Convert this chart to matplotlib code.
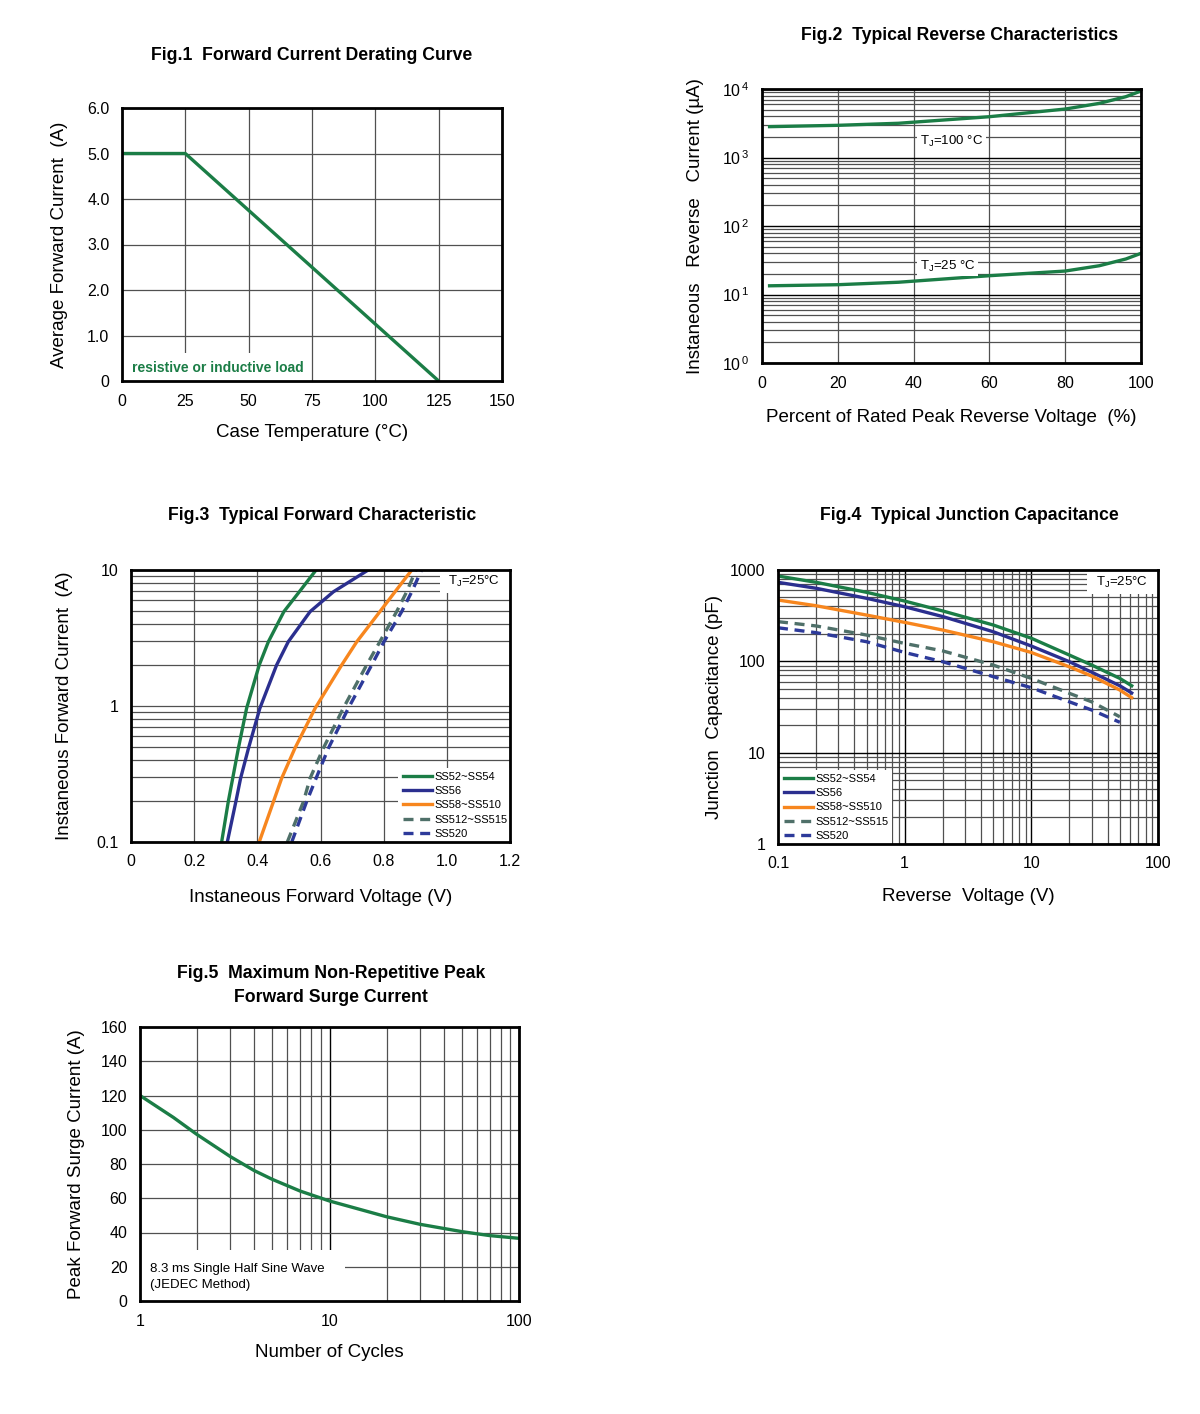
import matplotlib
matplotlib.use("Agg")
import matplotlib.pyplot as plt
import numpy as np
from matplotlib.patches import Rectangle
from matplotlib.ticker import LogLocator, NullFormatter, FixedLocator

plt.rcParams['font.family'] = ['Liberation Sans', 'DejaVu Sans']
plt.rcParams['mathtext.fontset'] = 'custom'
plt.rcParams['mathtext.rm'] = 'Liberation Sans'
plt.rcParams['mathtext.it'] = 'Liberation Sans'

GREEN = "#1b7d46"
NAVY = "#2b2f8f"
ORANGE = "#f7861e"
GRAYG = "#4f7069"
NAVYD = "#2d3a9a"

# Fig.1 derating
f1_temp = [0, 25, 125]
f1_curr = [5.0, 5.0, 0.0]

# Fig.2 reverse characteristics
f2_pct = [2, 20, 36, 60, 80, 89, 96, 100]
f2_ir_100 = [2820, 2950, 3160, 3940, 5100, 6170, 7720, 9350]
f2_ir_25 = [13.4, 13.9, 15.1, 18.8, 22.0, 26.3, 33.0, 39.9]

# Fig.3 forward characteristic (current points shared by all series)
f3_if = [0.1, 0.198, 0.294, 0.489, 0.962, 2.0, 2.97, 4.94, 6.92, 10.0]
f3_vf = {
    "SS52~SS54": [0.287, 0.308, 0.322, 0.340, 0.366, 0.406, 0.435, 0.484, 0.533, 0.586],
    "SS56": [0.305, 0.332, 0.347, 0.372, 0.408, 0.461, 0.498, 0.567, 0.641, 0.751],
    "SS58~SS510": [0.406, 0.451, 0.477, 0.519, 0.583, 0.667, 0.715, 0.788, 0.836, 0.889],
    "SS512~SS515": [0.495, 0.546, 0.567, 0.609, 0.672, 0.746, 0.788, 0.841, 0.873, 0.902],
    "SS520": [0.509, 0.556, 0.586, 0.625, 0.688, 0.762, 0.801, 0.857, 0.889, 0.920],
}

# Fig.4 junction capacitance
f4_vr = [0.1, 0.2, 0.5, 1, 2, 5, 10, 20, 30, 50, 62]
f4_cj = {
    "SS52~SS54": [859, 733, 570, 457, 356, 250, 179, 117, 91, 65, 54],
    "SS56": [733, 631, 490, 396, 309, 211, 147, 99, 76, 54, 45],
    "SS58~SS510": [469, 406, 321, 267, 220, 164, 125, 87, 69, 48.5, 40],
    "SS512~SS515": [272, 244, 194, 157, 130, 91, 65, 44.6, 36, 24.7],
    "SS520": [233, 206, 164, 125, 99, 68, 51.4, 36, 29.3, 21.5],
}

# Fig.5 surge current
f5_cycles = [1, 1.5, 2, 3, 4, 5, 7, 10, 20, 30, 50, 70, 100]
f5_ifsm = [120, 107.2, 97.2, 84.3, 76.2, 71, 64.2, 58.4, 49.2, 44.8, 40.5, 38.2, 36.6]

SERIES_STYLE = {
    "SS52~SS54": (GREEN, "-"),
    "SS56": (NAVY, "-"),
    "SS58~SS510": (ORANGE, "-"),
    "SS512~SS515": (GRAYG, (0, (3, 2))),
    "SS520": (NAVYD, (0, (3, 2))),
}

W, H = 1200, 1414
fig = plt.figure(figsize=(12, 14.14), dpi=100)


def add_ax(l, t, r, b):
    return fig.add_axes([l / W, 1 - b / H, (r - l) / W, (b - t) / H])


def ftxt(x, y, s, **kw):
    fig.text(x / W, 1 - y / H, s, **kw)


def style(ax):
    for s in ax.spines.values():
        s.set_linewidth(2.0)
        s.set_color("black")
        s.set_zorder(10)
    ax.tick_params(which="both", length=0, labelsize=11.5, pad=9)


def white_box(ax, x0, y0, x1, y1):
    ax.add_patch(Rectangle((x0, y0), x1 - x0, y1 - y0, transform=ax.transAxes,
                           facecolor="white", edgecolor="none", zorder=3))


TFS, LFS = 12.7, 13.5
GRID = dict(color="#505050", linewidth=0.9)
LEG = dict(fontsize=8, frameon=False, handlelength=2.6, labelspacing=0.38,
           handletextpad=0.2)

# ---------- Fig.1
ax = add_ax(122, 108, 502, 381)
ax.plot(f1_temp, f1_curr, color=GREEN, lw=2.4, solid_capstyle="butt")
ax.set_xlim(0, 150); ax.set_ylim(0, 6)
ax.set_xticks(range(0, 151, 25))
ax.set_yticks(np.arange(0, 6.1, 1.0))
ax.set_yticklabels(["0", "1.0", "2.0", "3.0", "4.0", "5.0", "6.0"])
ax.grid(True, **GRID)
style(ax)
white_box(ax, 0, 0, 0.495, 0.103)
ax.text(0.026, 0.048, "resistive or inductive load", transform=ax.transAxes,
        color=GREEN, fontsize=10, fontweight="bold", va="center", zorder=4)
ax.set_xlabel("Case Temperature (°C)", fontsize=LFS, labelpad=11)
ax.set_ylabel("Average Forward Current  (A)", fontsize=LFS, labelpad=14)
ftxt(312, 55, "Fig.1  Forward Current Derating Curve", ha="center", va="center",
     fontsize=TFS, fontweight="bold")

# ---------- Fig.2
ax = add_ax(762, 89, 1141, 363)
ax.plot(f2_pct, f2_ir_100, color=GREEN, lw=2.4)
ax.plot(f2_pct, f2_ir_25, color=GREEN, lw=2.4)
ax.set_yscale("log")
ax.set_xlim(0, 100); ax.set_ylim(1, 1e4)
ax.set_xticks(range(0, 101, 20))
ax.yaxis.set_major_locator(FixedLocator([1, 10, 100, 1000, 10000]))
ax.set_yticklabels(["$10^{\\,0}$", "$10^{\\,1}$", "$10^{\\,2}$", "$10^{\\,3}$", "$10^{\\,4}$"])
ax.yaxis.set_minor_locator(LogLocator(base=10, subs=np.arange(2, 10)))
ax.yaxis.set_minor_formatter(NullFormatter())
ax.grid(True, which="minor", axis="y", **GRID)
ax.grid(True, which="major", axis="y", color="black", linewidth=1.0)
ax.grid(True, which="major", axis="x", **GRID)
style(ax)
ax.text(50, 1740, "T$_\\mathrm{J}$=100 °C", fontsize=9.5, ha="center", va="center",
        bbox=dict(facecolor="white", edgecolor="none", pad=2))
ax.text(49, 26, "T$_\\mathrm{J}$=25 °C", fontsize=9.5, ha="center", va="center",
        bbox=dict(facecolor="white", edgecolor="none", pad=2))
ax.set_xlabel("Percent of Rated Peak Reverse Voltage  (%)", fontsize=LFS, labelpad=13)
ax.set_ylabel("Instaneous   Reverse   Current (µA)", fontsize=LFS, labelpad=13)
ftxt(960, 36, "Fig.2  Typical Reverse Characteristics", ha="center", va="center",
     fontsize=TFS, fontweight="bold")

# ---------- Fig.3
ax = add_ax(131, 570, 510, 842)
for name, vf in f3_vf.items():
    c, ls = SERIES_STYLE[name]
    ax.plot(vf, f3_if, color=c, ls=ls, lw=2.4, label=name)
ax.set_yscale("log")
ax.set_xlim(0, 1.2); ax.set_ylim(0.1, 10)
ax.set_xticks(np.arange(0, 1.21, 0.2))
ax.set_xticklabels(["0", "0.2", "0.4", "0.6", "0.8", "1.0", "1.2"])
ax.yaxis.set_major_locator(FixedLocator([0.1, 1, 10]))
ax.set_yticklabels(["0.1", "1", "10"])
ax.yaxis.set_minor_locator(LogLocator(base=10, subs=np.arange(2, 10)))
ax.yaxis.set_minor_formatter(NullFormatter())
ax.grid(True, which="both", axis="y", **GRID)
ax.grid(True, which="major", axis="x", **GRID)
style(ax)
white_box(ax, 0.705, 0, 1, 0.272)
leg = ax.legend(loc="lower right", bbox_to_anchor=(1.02, -0.025), **LEG)
leg.set_zorder(5)
white_box(ax, 0.815, 0.915, 1, 1)
ax.text(0.905, 0.957, "T$_\\mathrm{J}$=25°C", transform=ax.transAxes, fontsize=9.5,
        ha="center", va="center", zorder=4)
ax.set_xlabel("Instaneous Forward Voltage (V)", fontsize=LFS, labelpad=14)
ax.set_ylabel("Instaneous Forward Current  (A)", fontsize=LFS, labelpad=17)
ftxt(322, 516, "Fig.3  Typical Forward Characteristic", ha="center", va="center",
     fontsize=TFS, fontweight="bold")

# ---------- Fig.4
ax = add_ax(778, 570, 1158, 844)
for name, cj in f4_cj.items():
    c, ls = SERIES_STYLE[name]
    ax.plot(f4_vr[:len(cj)], cj, color=c, ls=ls, lw=2.4, label=name)
ax.set_xscale("log"); ax.set_yscale("log")
ax.set_xlim(0.1, 100); ax.set_ylim(1, 1000)
ax.xaxis.set_major_locator(FixedLocator([0.1, 1, 10, 100]))
ax.set_xticklabels(["0.1", "1", "10", "100"])
ax.yaxis.set_major_locator(FixedLocator([1, 10, 100, 1000]))
ax.set_yticklabels(["1", "10", "100", "1000"])
for a in (ax.xaxis, ax.yaxis):
    a.set_minor_locator(LogLocator(base=10, subs=np.arange(2, 10)))
    a.set_minor_formatter(NullFormatter())
ax.grid(True, which="minor", **GRID)
ax.grid(True, which="major", color="black", linewidth=1.0)
style(ax)
white_box(ax, 0, 0, 0.30, 0.27)
leg = ax.legend(loc="lower left", bbox_to_anchor=(-0.01, -0.025), **LEG)
leg.set_zorder(5)
white_box(ax, 0.813, 0.912, 1, 1)
ax.text(0.905, 0.955, "T$_\\mathrm{J}$=25°C", transform=ax.transAxes, fontsize=9.5,
        ha="center", va="center", zorder=4)
ax.set_xlabel("Reverse  Voltage (V)", fontsize=LFS, labelpad=12)
ax.set_ylabel("Junction  Capacitance (pF)", fontsize=LFS, labelpad=5)
ftxt(969, 516, "Fig.4  Typical Junction Capacitance", ha="center", va="center",
     fontsize=TFS, fontweight="bold")

# ---------- Fig.5
ax = add_ax(140, 1027, 519, 1301)
ax.plot(f5_cycles, f5_ifsm, color=GREEN, lw=2.4)
ax.set_xscale("log")
ax.set_xlim(1, 100); ax.set_ylim(0, 160)
ax.xaxis.set_major_locator(FixedLocator([1, 10, 100]))
ax.set_xticklabels(["1", "10", "100"])
ax.xaxis.set_minor_locator(LogLocator(base=10, subs=np.arange(2, 10)))
ax.xaxis.set_minor_formatter(NullFormatter())
ax.set_yticks(range(0, 161, 20))
ax.grid(True, which="minor", axis="x", **GRID)
ax.grid(True, which="major", axis="x", color="black", linewidth=1.0)
ax.grid(True, which="major", axis="y", **GRID)
style(ax)
white_box(ax, 0, 0, 0.54, 0.186)
ax.text(0.026, 0.088, "8.3 ms Single Half Sine Wave\n(JEDEC Method)", transform=ax.transAxes,
        fontsize=9.5, linespacing=1.45, ha="left", va="center", zorder=4)
ax.set_xlabel("Number of Cycles", fontsize=LFS, labelpad=11)
ax.set_ylabel("Peak Forward Surge Current (A)", fontsize=LFS, labelpad=11)
ftxt(331, 973, "Fig.5  Maximum Non-Repetitive Peak", ha="center", va="center",
     fontsize=TFS, fontweight="bold")
ftxt(331, 997, "Forward Surge Current", ha="center", va="center",
     fontsize=TFS, fontweight="bold")

fig.savefig("out.png", dpi=100)
